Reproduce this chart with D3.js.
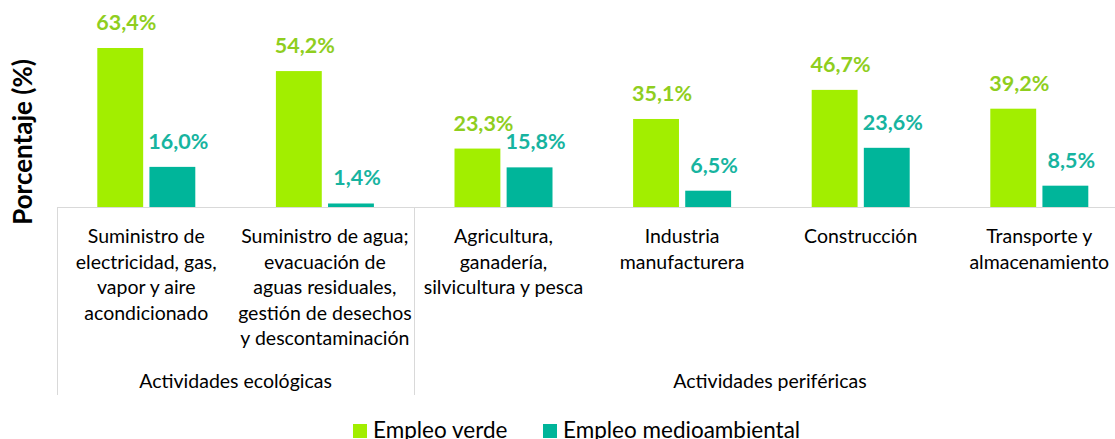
<!DOCTYPE html>
<html>
<head>
<meta charset="utf-8">
<script src="https://cdn.jsdelivr.net/npm/d3@7"></script>
<style>
  body { margin: 0; background: #fff; }
  svg text { font-family: Lato, "Open Sans", sans-serif; }
</style>
</head>
<body>
<svg id="chart"></svg>
<script>
const width = 1115
const height = 439

// data
const categories = [
  ["Suministro de", "electricidad, gas,", "vapor y aire", "acondicionado"],
  ["Suministro de agua;", "evacuación de", "aguas residuales,", "gestión de desechos", "y descontaminación"],
  ["Agricultura,", "ganadería,", "silvicultura y pesca"],
  ["Industria", "manufacturera"],
  ["Construcción"],
  ["Transporte y", "almacenamiento"]
]
const groups = ["Actividades ecológicas", "Actividades periféricas"]
const groupOf = [0, 0, 1, 1, 1, 1]
const seriesNames = ["Empleo verde", "Empleo medioambiental"]
const empleoVerde = [63.4, 54.2, 23.3, 35.1, 46.7, 39.2]
const empleoMedio = [16.0, 1.4, 15.8, 6.5, 23.6, 8.5]

const barColors = ["#a2ee00", "#00b59a"]
const labelColors = ["#8fce1e", "#17b4a0"]

const margin = {left: 57, baseline: 207}
const plotRight = 57 + 6 * 178.6

const svg = d3.select("#chart")
            .attr("width", width)
            .attr("height", height)

const x0 = d3.scaleBand()
            .domain(d3.range(categories.length))
            .range([margin.left, plotRight])

const x1 = d3.scaleBand()
            .domain([0, 1])
            .range([0, 98])
            .paddingInner(0.12)

const y = d3.scaleLinear()
            .domain([0, 63.4])
            .range([margin.baseline, 48])

const rows = categories.map((c, i) => ({i: i, values: [empleoVerde[i], empleoMedio[i]]}))

const fmt = v => d3.format(".1f")(v).replace(".", ",") + "%"

const g = svg.selectAll("g.cat")
            .data(rows)
            .enter()
            .append("g")
            .attr("class", "cat")
            .attr("transform", d => `translate(${x0(d.i) + (x0.bandwidth() - 98) / 2},0)`)

g.selectAll("rect")
 .data(d => d.values)
 .enter()
 .append("rect")
 .attr("x", (v, j) => x1(j))
 .attr("width", x1.bandwidth())
 .attr("y", v => y(v))
 .attr("height", v => margin.baseline - y(v))
 .attr("fill", (v, j) => barColors[j])

g.selectAll("text.val")
 .data(d => d.values)
 .enter()
 .append("text")
 .attr("class", "val")
 .attr("x", (v, j) => x1(j) + x1.bandwidth() / 2 + 6)
 .attr("y", v => y(v) - 18)
 .attr("text-anchor", "middle")
 .attr("font-size", 21.5)
 .attr("font-weight", "bold")
 .attr("fill", (v, j) => labelColors[j])
 .text(fmt)

// axis line and dividers
const lineColor = "#d9d9d9"
svg.append("line")
   .attr("x1", margin.left).attr("x2", width)
   .attr("y1", margin.baseline + 0.5).attr("y2", margin.baseline + 0.5)
   .attr("stroke", lineColor)

const dividers = [0, 2]
dividers.forEach(i => {
  svg.append("line")
     .attr("x1", Math.round(x0(i)) + 0.5).attr("x2", Math.round(x0(i)) + 0.5)
     .attr("y1", margin.baseline).attr("y2", 395)
     .attr("stroke", lineColor)
})

// category labels
svg.selectAll("text.cat-label")
   .data(categories)
   .enter()
   .append("text")
   .attr("class", "cat-label")
   .attr("text-anchor", "middle")
   .attr("font-size", 19.5)
   .attr("fill", "#000")
   .each(function(lines, i) {
      d3.select(this).selectAll("tspan")
        .data(lines)
        .enter()
        .append("tspan")
        .attr("x", x0(i) + x0.bandwidth() / 2)
        .attr("y", (l, k) => 243 + k * 25.5)
        .text(l => l)
   })

// group labels
groups.forEach((name, gi) => {
  const idx = d3.range(groupOf.length).filter(i => groupOf[i] === gi)
  const gx = (x0(idx[0]) + x0(idx[idx.length - 1]) + x0.bandwidth()) / 2
  svg.append("text")
     .attr("x", gi === 1 ? 770 : gx)
     .attr("y", 388)
     .attr("text-anchor", "middle")
     .attr("font-size", 19.5)
     .text(name)
})

// y title
svg.append("text")
   .attr("transform", "translate(32,142) rotate(-90)")
   .attr("text-anchor", "middle")
   .attr("font-size", 26)
   .attr("font-weight", "bold")
   .text("Porcentaje (%)")

// legend
const legendX = [353, 543]
seriesNames.forEach((name, j) => {
  svg.append("rect")
     .attr("x", legendX[j]).attr("y", 424)
     .attr("width", 14).attr("height", 14)
     .attr("fill", barColors[j])
  svg.append("text")
     .attr("x", legendX[j] + 20).attr("y", 438)
     .attr("font-size", 22.5)
     .text(name)
})
</script>
</body>
</html>
